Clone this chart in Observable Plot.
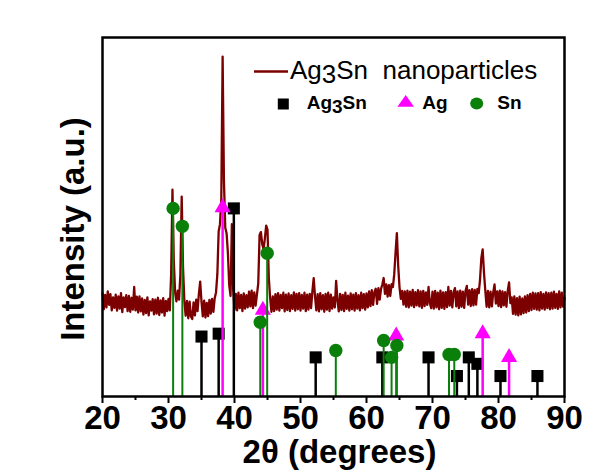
<!DOCTYPE html>
<html>
<head>
<meta charset="utf-8">
<script src="https://cdn.jsdelivr.net/npm/d3@7"></script>
<script src="https://cdn.jsdelivr.net/npm/@observablehq/plot@0.6"></script>
<style>
  html, body { margin: 0; padding: 0; background: #fff; }
  svg { display: block; }
</style>
</head>
<body>
<div id="chart"></div>
<script>
// ---- XRD spectrum: intensity (a.u.) sampled every 0.2° from 20° to 90° ----
const angleStart = 20;
const angleStep = 0.2;
const intensity = [
  28.8, 24.3, 28.3, 24.8, 29.3, 25.5, 28.5, 24.0, 27.6, 24.7,
  28.4, 23.9, 27.9, 24.5, 28.8, 23.5, 27.6, 24.9, 28.2, 23.8,
  28.0, 23.6, 27.5, 24.2, 30.5, 24.0, 27.8, 23.4, 27.9, 23.7,
  27.3, 22.8, 26.9, 23.2, 27.6, 22.6, 26.5, 23.9, 27.1, 22.9,
  27.0, 23.1, 27.5, 22.7, 26.8, 23.4, 27.4, 22.5, 26.6, 23.8,
  27.2, 24.0, 34.0, 57.6, 38.0, 29.0, 26.5, 29.5, 27.0, 34.0,
  55.7, 36.0, 26.8, 22.5, 26.6, 21.8, 26.4, 22.3, 21.6, 26.2,
  22.6, 27.0, 23.8, 28.5, 32.0, 26.4, 22.3, 26.7, 22.0, 26.1,
  22.4, 26.9, 23.1, 27.2, 23.6, 27.4, 29.0, 34.0, 46.0, 48.0,
  55.0, 94.7, 60.0, 47.0, 45.5, 40.0, 31.0, 28.0, 48.0, 30.0,
  24.1, 28.6, 24.0, 28.9, 24.6, 28.3, 23.8, 28.7, 24.5, 28.2,
  24.8, 29.2, 25.1, 29.5, 24.6, 29.0, 25.3, 28.4, 31.5, 45.0,
  45.8, 42.5, 41.0, 44.0, 47.6, 46.5, 33.0, 27.5, 23.6, 27.9,
  23.8, 28.5, 24.2, 28.8, 23.9, 28.3, 24.6, 28.9, 23.7, 28.4,
  24.1, 28.7, 23.8, 28.2, 24.4, 29.0, 23.9, 28.6, 24.3, 28.8,
  23.9, 28.3, 24.5, 28.9, 23.8, 28.4, 24.2, 28.6, 24.6, 29.3,
  33.0, 27.8, 24.0, 28.5, 23.7, 28.8, 24.3, 28.2, 23.6, 28.6,
  24.2, 28.9, 23.8, 28.4, 24.5, 27.6, 24.8, 32.2, 26.8, 23.7,
  28.6, 24.1, 28.3, 23.8, 28.9, 24.4, 28.1, 23.9, 28.7, 24.3,
  28.4, 23.9, 28.8, 24.5, 28.2, 24.0, 28.9, 24.6, 28.5, 24.2,
  28.7, 24.8, 29.3, 25.2, 29.6, 25.5, 29.1, 30.0, 25.8, 30.2,
  27.0, 30.0, 31.2, 33.0, 28.6, 31.2, 27.8, 31.0, 28.0, 31.3,
  30.5, 34.0, 40.0, 45.5, 36.5, 30.5, 27.2, 29.4, 25.6, 29.3,
  25.0, 29.5, 24.8, 29.2, 25.3, 29.7, 24.9, 29.1, 25.4, 29.6,
  25.1, 29.3, 24.7, 29.4, 25.2, 29.0, 25.5, 30.5, 26.0, 24.6,
  29.2, 24.5, 29.4, 24.8, 28.9, 24.3, 29.5, 24.7, 29.0, 24.4,
  29.1, 24.9, 30.5, 25.3, 29.4, 24.8, 29.0, 30.2, 25.1, 29.3,
  24.6, 29.5, 25.0, 29.2, 24.7, 29.4, 30.8, 25.6, 29.6, 25.2,
  29.9, 25.4, 29.7, 25.6, 30.0, 28.8, 32.5, 38.5, 41.0, 34.5,
  29.5, 25.0, 29.4, 24.8, 29.2, 25.1, 29.0, 31.2, 25.9, 29.3,
  25.2, 29.5, 24.9, 29.3, 25.4, 29.1, 25.0, 29.4, 31.8, 26.0,
  27.6, 23.0, 27.9, 22.8, 27.4, 22.6, 27.8, 22.9, 27.3, 23.2,
  27.9, 23.4, 28.2, 23.8, 28.6, 24.1, 28.9, 24.4, 28.7, 24.2,
  28.8, 24.0, 29.1, 24.5, 28.6, 24.2, 29.0, 24.6, 28.8, 24.3,
  28.9, 24.5, 29.2, 24.7, 28.6, 24.4, 29.3, 24.8, 28.9, 25.0,
  27.5
];

// ---- Reference patterns (stick positions and marker heights) ----
const ag3snAngles  = [35.0, 37.6, 39.9, 52.3, 62.4, 69.4, 73.7, 75.5, 76.8, 80.3, 85.9];
const ag3snHeights = [16.7, 17.5, 52.4, 10.9, 10.9, 10.9, 5.7, 10.9, 9.1, 5.7, 5.7];

const agAngles  = [38.2, 44.3, 64.5, 77.6, 81.6];
const agHeights = [52.6, 24.1, 16.9, 17.5, 10.9];

const snAngles  = [30.7, 32.1, 43.9, 44.95, 55.35, 62.6, 63.8, 64.6, 72.5, 73.3];
const snHeights = [52.4, 47.4, 20.7, 39.9, 12.8, 15.6, 10.9, 14.2, 11.7, 11.7];

// ---- Axis ticks and labels ----
const majorTicks = [20, 30, 40, 50, 60, 70, 80, 90];
const minorTicks = [25, 35, 45, 55, 65, 75, 85];
const xLabel = "2θ (degrees)";
const yLabel = "Intensity (a.u.)";

// ---- Build tables ----
const spectrum = intensity.map((v, i) => ({t: angleStart + i * angleStep, v}));
const ag3sn = ag3snAngles.map((t, i) => ({t, h: ag3snHeights[i]}));
const ag = agAngles.map((t, i) => ({t, h: agHeights[i]}));
const sn = snAngles.map((t, i) => ({t, h: snHeights[i]}));

const FONT = "'Liberation Sans', Arial, Helvetica, sans-serif";
const MAROON = "#7d0000";
const MAGENTA = "#ff00ff";
const GREEN = "#0a800a";

const chart = Plot.plot({
  width: 613,
  height: 476,
  marginLeft: 102,
  marginRight: 49,
  marginTop: 37,
  marginBottom: 80,
  style: {fontFamily: FONT, background: "#fff", color: "#000"},
  x: {domain: [20, 90]},
  y: {domain: [0, 100], axis: null},
  marks: [
    Plot.line(spectrum, {x: "t", y: "v", stroke: MAROON, strokeWidth: 2.3}),
    Plot.ruleX(ag3sn, {x: "t", y1: 0, y2: "h", stroke: "#000", strokeWidth: 2.5}),
    Plot.dot(ag3sn, {x: "t", y: "h", symbol: "square", r: 6.8, fill: "#000", stroke: "none"}),
    Plot.ruleX(ag, {x: "t", y1: 0, y2: "h", stroke: MAGENTA, strokeWidth: 2.5}),
    Plot.dot(ag, {x: "t", y: "h", symbol: "triangle", r: 6.0, fill: MAGENTA, stroke: "none"}),
    Plot.ruleX(sn, {x: "t", y1: 0, y2: "h", stroke: GREEN, strokeWidth: 2}),
    Plot.dot(sn, {x: "t", y: "h", symbol: "circle", r: 6.7, fill: GREEN, stroke: "none"}),
    Plot.frame({stroke: "#000", strokeWidth: 2.5}),
    Plot.axisX({ticks: majorTicks, tickSize: 7, tickPadding: 2, tickFormat: d => String(d),
      fontSize: 33, fontWeight: "bold", label: null, strokeWidth: 2}),
    Plot.axisX({ticks: minorTicks, tickSize: 4, tickFormat: () => "", label: null, strokeWidth: 2}),
    Plot.text([xLabel], {text: d => d, frameAnchor: "bottom", dy: 56, dx: 6, textAnchor: "middle",
      fontSize: 33, fontWeight: "bold", lineAnchor: "middle", fill: "#000"}),
    Plot.text([yLabel], {text: d => d, frameAnchor: "left", rotate: -90, dx: -29, dy: 12, textAnchor: "middle",
      fontSize: 33, fontWeight: "bold", lineAnchor: "middle", fill: "#000"})
  ]
});

document.getElementById("chart").append(chart);

// ---- Legend ----
const lg = d3.select(chart).append("g")
  .attr("font-family", FONT).attr("fill", "#000").attr("text-anchor", "start");
lg.append("line").attr("x1", 254).attr("x2", 288).attr("y1", 71.5).attr("y2", 71.5)
  .attr("stroke", MAROON).attr("stroke-width", 2.5);

function legendText(x, y, size, weight, parts) {
  const t = lg.append("text").attr("x", x).attr("y", y)
    .attr("font-size", size).attr("font-weight", weight).attr("text-anchor", "start");
  parts.forEach(([s, dy]) => {
    t.append("tspan").attr("dy", dy).text(s);
  });
}
legendText(290, 79, 26, "normal", [["Ag", 0], ["3", 4], ["Sn  nanoparticles", -4]]);

lg.append("rect").attr("x", 283.3 - 5.5).attr("y", 104 - 5.5).attr("width", 11).attr("height", 11).attr("fill", "#000");
legendText(306.7, 109, 19, "bold", [["Ag", 0], ["3", 4], ["Sn", -4]]);

lg.append("path").attr("d", "M405.7,95 L414,106.7 L397.4,106.7 Z").attr("fill", MAGENTA);
legendText(422.3, 109, 19, "bold", [["Ag", 0]]);

lg.append("ellipse").attr("cx", 476.7).attr("cy", 103.5).attr("rx", 6.5).attr("ry", 6).attr("fill", GREEN);
legendText(497.3, 109, 19, "bold", [["Sn", 0]]);
</script>
</body>
</html>
